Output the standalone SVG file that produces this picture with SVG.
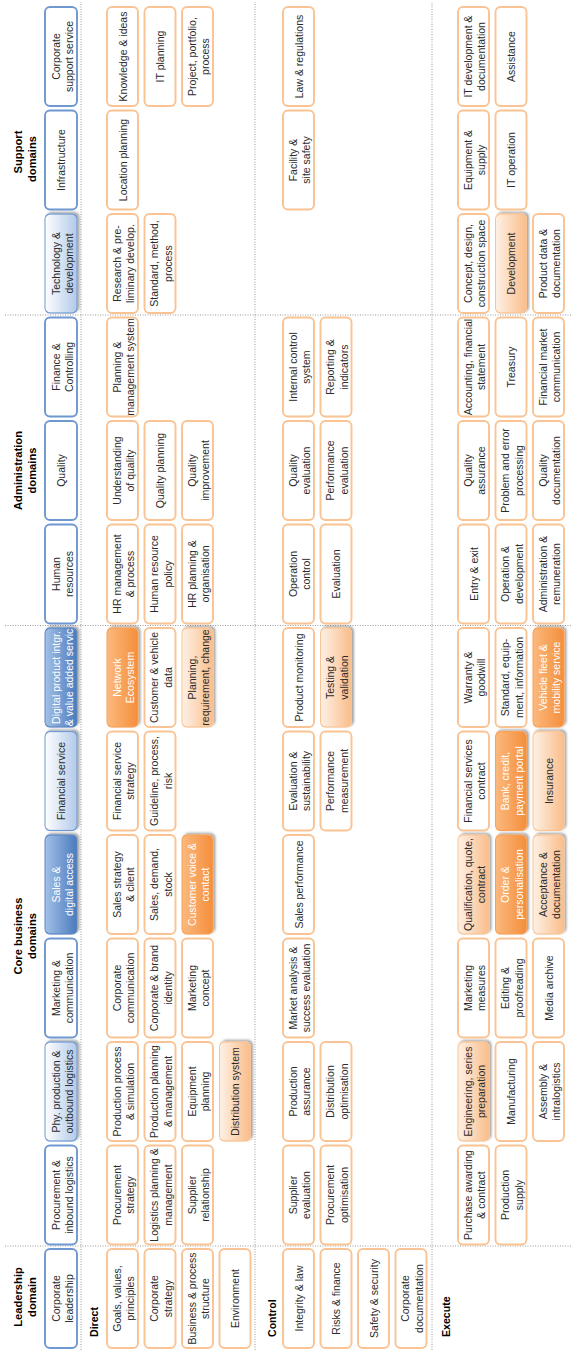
<svg xmlns="http://www.w3.org/2000/svg" width="572" height="1352" viewBox="0 0 572 1352">
<defs>
  <linearGradient id="gBlue" x1="0" y1="0" x2="0" y2="1">
    <stop offset="0" stop-color="#a3c0e7"/>
    <stop offset="1" stop-color="#4a7bbd"/>
  </linearGradient>
  <linearGradient id="gBlueLight" x1="0" y1="0" x2="0" y2="1">
    <stop offset="0" stop-color="#ffffff"/>
    <stop offset="1" stop-color="#b2c9e9"/>
  </linearGradient>
  <linearGradient id="gOrange" x1="0" y1="0" x2="0" y2="1">
    <stop offset="0" stop-color="#fbb97d"/>
    <stop offset="1" stop-color="#f58e3c"/>
  </linearGradient>
  <linearGradient id="gOrangeLight" x1="0" y1="0" x2="0" y2="1">
    <stop offset="0" stop-color="#fef1e6"/>
    <stop offset="1" stop-color="#f9bd8a"/>
  </linearGradient>
  <filter id="shadow" x="-10%" y="-15%" width="125%" height="145%">
    <feDropShadow dx="1.5" dy="2" stdDeviation="1.2" flood-color="#000" flood-opacity="0.35"/>
  </filter>
  <style>
    .hd { fill: #ffffff; stroke: #6e98cf; stroke-width: 1.9; }
    .hdL { fill: url(#gBlueLight); stroke: #6e98cf; stroke-width: 1.2; filter: url(#shadow); }
    .hdB { fill: url(#gBlue); stroke: #5d88c4; stroke-width: 1.2; filter: url(#shadow); }
    .c { fill: #ffffff; stroke: #f9c393; stroke-width: 1.9; }
    .cL { fill: url(#gOrangeLight); stroke: #f9c393; stroke-width: 1.2; filter: url(#shadow); }
    .cO { fill: url(#gOrange); stroke: #f7a25a; stroke-width: 1.2; filter: url(#shadow); }
    rect { rx: 5px; ry: 5px; }
    text { font-family: "Liberation Sans", Arial, sans-serif; }
    .t { font-size: 10.5px; fill: #2b2b2b; text-anchor: middle; }
    .w { fill: #ffffff; }
    .ttl { font-size: 11.2px; font-weight: bold; fill: #000000; text-anchor: middle; }
    .sec { font-size: 10.6px; font-weight: bold; fill: #000000; }
    .sep { stroke: #9c9c9c; stroke-width: 1; stroke-dasharray: 1 1.5; fill: none; }
  </style>
</defs>

<!-- the whole chart is laid out landscape and turned a quarter to the left -->
<g transform="translate(0 1352) rotate(-90)">

  <!-- dotted section separators -->
  <g id="separators">
    <line class="sep" x1="2" y1="81" x2="1350" y2="81"/>
    <line class="sep" x1="2" y1="255" x2="1350" y2="255"/>
    <line class="sep" x1="2" y1="432" x2="1350" y2="432"/>
    <line class="sep" x1="106" y1="5" x2="106" y2="572"/>
    <line class="sep" x1="726.5" y1="5" x2="726.5" y2="572"/>
    <line class="sep" x1="1037" y1="5" x2="1037" y2="572"/>
  </g>

  <!-- domain titles -->
  <g id="titles">
    <text class="ttl"><tspan x="55" y="22">Leadership</tspan><tspan x="55" y="36">domain</tspan></text>
    <text class="ttl"><tspan x="416" y="22">Core business</tspan><tspan x="416" y="36">domains</tspan></text>
    <text class="ttl"><tspan x="881.5" y="22">Administration</tspan><tspan x="881.5" y="36">domains</tspan></text>
    <text class="ttl"><tspan x="1200" y="22">Support</tspan><tspan x="1193" y="36">domains</tspan></text>
  </g>

  <!-- row section labels -->
  <g id="sections">
    <text class="sec" x="15" y="98">Direct</text>
    <text class="sec" x="15" y="276">Control</text>
    <text class="sec" x="15" y="450">Execute</text>
  </g>

  <!-- ===== Leadership ===== -->
  <g id="corporate-leadership"><rect class="hd" x="4" y="45" width="99" height="32"/><text class="t"><tspan x="53.5" y="59.5">Corporate</tspan><tspan x="53.5" y="73">leadership</tspan></text></g>
  <g id="goals-values"><rect class="c" x="4" y="107" width="99" height="31"/><text class="t"><tspan x="53.5" y="120.5">Goals, values,</tspan><tspan x="53.5" y="134">principles</tspan></text></g>
  <g id="corporate-strategy"><rect class="c" x="4" y="144.5" width="99" height="31"/><text class="t"><tspan x="53.5" y="158">Corporate</tspan><tspan x="53.5" y="171.5">strategy</tspan></text></g>
  <g id="business-process"><rect class="c" x="4" y="182" width="99" height="31"/><text class="t"><tspan x="53.5" y="195.5">Business &amp; process</tspan><tspan x="53.5" y="209">structure</tspan></text></g>
  <g id="environment"><rect class="c" x="4" y="219.5" width="99" height="31"/><text class="t" x="53.5" y="239">Environment</text></g>
  <g id="integrity-law"><rect class="c" x="4" y="283" width="99" height="31"/><text class="t" x="53.5" y="302.5">Integrity &amp; law</text></g>
  <g id="risks-finance"><rect class="c" x="4" y="320.5" width="99" height="31"/><text class="t" x="53.5" y="340">Risks &amp; finance</text></g>
  <g id="safety-security"><rect class="c" x="4" y="358" width="99" height="31"/><text class="t" x="53.5" y="377.5">Safety &amp; security</text></g>
  <g id="corporate-documentation"><rect class="c" x="4" y="395.5" width="99" height="31"/><text class="t"><tspan x="53.5" y="409">Corporate</tspan><tspan x="53.5" y="422.5">documentation</tspan></text></g>

  <!-- ===== Procurement & inbound logistics ===== -->
  <g id="procurement"><rect class="hd" x="107.5" y="45" width="99" height="32"/><text class="t"><tspan x="157" y="59.5">Procurement &amp;</tspan><tspan x="157" y="73">inbound logistics</tspan></text></g>
  <g id="procurement-strategy"><rect class="c" x="107.5" y="107" width="99" height="31"/><text class="t"><tspan x="157" y="120.5">Procurement</tspan><tspan x="157" y="134">strategy</tspan></text></g>
  <g id="logistics-planning"><rect class="c" x="107.5" y="144.5" width="99" height="31"/><text class="t"><tspan x="157" y="158">Logistics planning &amp;</tspan><tspan x="157" y="171.5">management</tspan></text></g>
  <g id="supplier-relationship"><rect class="c" x="107.5" y="182" width="99" height="31"/><text class="t"><tspan x="157" y="195.5">Supplier</tspan><tspan x="157" y="209">relationship</tspan></text></g>
  <g id="supplier-evaluation"><rect class="c" x="107.5" y="283" width="99" height="31"/><text class="t"><tspan x="157" y="296.5">Supplier</tspan><tspan x="157" y="310">evaluation</tspan></text></g>
  <g id="procurement-optimisation"><rect class="c" x="107.5" y="320.5" width="99" height="31"/><text class="t"><tspan x="157" y="334">Procurement</tspan><tspan x="157" y="347.5">optimisation</tspan></text></g>
  <g id="purchase-awarding"><rect class="c" x="107.5" y="458" width="99" height="31"/><text class="t"><tspan x="157" y="471.5">Purchase awarding</tspan><tspan x="157" y="485">&amp; contract</tspan></text></g>
  <g id="production-supply"><rect class="c" x="107.5" y="495.5" width="99" height="31"/><text class="t"><tspan x="157" y="509">Production</tspan><tspan x="157" y="522.5">supply</tspan></text></g>

  <!-- ===== Phy. production & outbound logistics ===== -->
  <g id="production"><rect class="hdL" x="211" y="45" width="99" height="32"/><text class="t"><tspan x="260.5" y="59.5">Phy. production &amp;</tspan><tspan x="260.5" y="73">outbound logistics</tspan></text></g>
  <g id="production-process"><rect class="c" x="211" y="107" width="99" height="31"/><text class="t"><tspan x="260.5" y="120.5">Production process</tspan><tspan x="260.5" y="134">&amp; simulation</tspan></text></g>
  <g id="production-planning"><rect class="c" x="211" y="144.5" width="99" height="31"/><text class="t"><tspan x="260.5" y="158">Production planning</tspan><tspan x="260.5" y="171.5">&amp; management</tspan></text></g>
  <g id="equipment-planning"><rect class="c" x="211" y="182" width="99" height="31"/><text class="t"><tspan x="260.5" y="195.5">Equipment</tspan><tspan x="260.5" y="209">planning</tspan></text></g>
  <g id="distribution-system"><rect class="cL" x="211" y="219.5" width="99" height="31"/><text class="t" x="260.5" y="239">Distribution system</text></g>
  <g id="production-assurance"><rect class="c" x="211" y="283" width="99" height="31"/><text class="t"><tspan x="260.5" y="296.5">Production</tspan><tspan x="260.5" y="310">assurance</tspan></text></g>
  <g id="distribution-optimisation"><rect class="c" x="211" y="320.5" width="99" height="31"/><text class="t"><tspan x="260.5" y="334">Distribution</tspan><tspan x="260.5" y="347.5">optimisation</tspan></text></g>
  <g id="engineering"><rect class="cL" x="211" y="458" width="99" height="31"/><text class="t"><tspan x="260.5" y="471.5">Engineering, series</tspan><tspan x="260.5" y="485">preparation</tspan></text></g>
  <g id="manufacturing"><rect class="c" x="211" y="495.5" width="99" height="31"/><text class="t" x="260.5" y="515">Manufacturing</text></g>
  <g id="assembly"><rect class="c" x="211" y="533" width="99" height="31"/><text class="t"><tspan x="260.5" y="546.5">Assembly &amp;</tspan><tspan x="260.5" y="560">intralogistics</tspan></text></g>

  <!-- ===== Marketing & communication ===== -->
  <g id="marketing"><rect class="hd" x="314.5" y="45" width="99" height="32"/><text class="t"><tspan x="364" y="59.5">Marketing &amp;</tspan><tspan x="364" y="73">communication</tspan></text></g>
  <g id="corporate-communication"><rect class="c" x="314.5" y="107" width="99" height="31"/><text class="t"><tspan x="364" y="120.5">Corporate</tspan><tspan x="364" y="134">communication</tspan></text></g>
  <g id="brand-identity"><rect class="c" x="314.5" y="144.5" width="99" height="31"/><text class="t"><tspan x="364" y="158">Corporate &amp; brand</tspan><tspan x="364" y="171.5">identity</tspan></text></g>
  <g id="marketing-concept"><rect class="c" x="314.5" y="182" width="99" height="31"/><text class="t"><tspan x="364" y="195.5">Marketing</tspan><tspan x="364" y="209">concept</tspan></text></g>
  <g id="market-analysis"><rect class="c" x="314.5" y="283" width="99" height="31"/><text class="t"><tspan x="364" y="296.5">Market analysis &amp;</tspan><tspan x="364" y="310">success evaluation</tspan></text></g>
  <g id="marketing-measures"><rect class="c" x="314.5" y="458" width="99" height="31"/><text class="t"><tspan x="364" y="471.5">Marketing</tspan><tspan x="364" y="485">measures</tspan></text></g>
  <g id="editing"><rect class="c" x="314.5" y="495.5" width="99" height="31"/><text class="t"><tspan x="364" y="509">Editing &amp;</tspan><tspan x="364" y="522.5">proofreading</tspan></text></g>
  <g id="media-archive"><rect class="c" x="314.5" y="533" width="99" height="31"/><text class="t" x="364" y="552.5">Media archive</text></g>

  <!-- ===== Sales & digital access ===== -->
  <g id="sales"><rect class="hdB" x="418" y="45" width="99" height="32"/><text class="t w"><tspan x="467.5" y="59.5">Sales &amp;</tspan><tspan x="467.5" y="73">digital access</tspan></text></g>
  <g id="sales-strategy"><rect class="c" x="418" y="107" width="99" height="31"/><text class="t"><tspan x="467.5" y="120.5">Sales strategy</tspan><tspan x="467.5" y="134">&amp; client</tspan></text></g>
  <g id="sales-demand"><rect class="c" x="418" y="144.5" width="99" height="31"/><text class="t"><tspan x="467.5" y="158">Sales, demand,</tspan><tspan x="467.5" y="171.5">stock</tspan></text></g>
  <g id="customer-voice"><rect class="cO" x="418" y="182" width="99" height="31"/><text class="t w"><tspan x="467.5" y="195.5">Customer voice &amp;</tspan><tspan x="467.5" y="209">contact</tspan></text></g>
  <g id="sales-performance"><rect class="c" x="418" y="283" width="99" height="31"/><text class="t" x="467.5" y="302.5">Sales performance</text></g>
  <g id="qualification"><rect class="cL" x="418" y="458" width="99" height="31"/><text class="t"><tspan x="467.5" y="471.5">Qualification, quote,</tspan><tspan x="467.5" y="485">contract</tspan></text></g>
  <g id="order"><rect class="cO" x="418" y="495.5" width="99" height="31"/><text class="t w"><tspan x="467.5" y="509">Order &amp;</tspan><tspan x="467.5" y="522.5">personalisation</tspan></text></g>
  <g id="acceptance"><rect class="cL" x="418" y="533" width="99" height="31"/><text class="t"><tspan x="467.5" y="546.5">Acceptance &amp;</tspan><tspan x="467.5" y="560">documentation</tspan></text></g>

  <!-- ===== Financial service ===== -->
  <g id="financial-service"><rect class="hdL" x="521.5" y="45" width="99" height="32"/><text class="t" x="571" y="65">Financial service</text></g>
  <g id="financial-strategy"><rect class="c" x="521.5" y="107" width="99" height="31"/><text class="t"><tspan x="571" y="120.5">Financial service</tspan><tspan x="571" y="134">strategy</tspan></text></g>
  <g id="guideline"><rect class="c" x="521.5" y="144.5" width="99" height="31"/><text class="t"><tspan x="571" y="158">Guideline, process,</tspan><tspan x="571" y="171.5">risk</tspan></text></g>
  <g id="evaluation-sustainability"><rect class="c" x="521.5" y="283" width="99" height="31"/><text class="t"><tspan x="571" y="296.5">Evaluation &amp;</tspan><tspan x="571" y="310">sustainability</tspan></text></g>
  <g id="performance-measurement"><rect class="c" x="521.5" y="320.5" width="99" height="31"/><text class="t"><tspan x="571" y="334">Performance</tspan><tspan x="571" y="347.5">measurement</tspan></text></g>
  <g id="financial-contract"><rect class="c" x="521.5" y="458" width="99" height="31"/><text class="t"><tspan x="571" y="471.5">Financial services</tspan><tspan x="571" y="485">contract</tspan></text></g>
  <g id="bank-credit"><rect class="cO" x="521.5" y="495.5" width="99" height="31"/><text class="t w"><tspan x="571" y="509">Bank, credit,</tspan><tspan x="571" y="522.5">payment portal</tspan></text></g>
  <g id="insurance"><rect class="cL" x="521.5" y="533" width="99" height="31"/><text class="t" x="571" y="552.5">Insurance</text></g>

  <!-- ===== Digital product integration ===== -->
  <g id="digital-product"><rect class="hdB" x="625" y="45" width="99" height="32"/><text class="t w"><tspan x="674.5" y="59.5">Digital product intgr.</tspan><tspan x="674.5" y="73">&amp; value added servic</tspan></text></g>
  <g id="network-ecosystem"><rect class="cO" x="625" y="107" width="99" height="31"/><text class="t w"><tspan x="674.5" y="120.5">Network</tspan><tspan x="674.5" y="134">Ecosystem</tspan></text></g>
  <g id="customer-vehicle-data"><rect class="c" x="625" y="144.5" width="99" height="31"/><text class="t"><tspan x="674.5" y="158">Customer &amp; vehicle</tspan><tspan x="674.5" y="171.5">data</tspan></text></g>
  <g id="planning-requirement"><rect class="cL" x="625" y="182" width="99" height="31"/><text class="t"><tspan x="674.5" y="195.5">Planning,</tspan><tspan x="674.5" y="209">requirement, change</tspan></text></g>
  <g id="product-monitoring"><rect class="c" x="625" y="283" width="99" height="31"/><text class="t" x="674.5" y="302.5">Product monitoring</text></g>
  <g id="testing-validation"><rect class="cL" x="625" y="320.5" width="99" height="31"/><text class="t"><tspan x="674.5" y="334">Testing &amp;</tspan><tspan x="674.5" y="347.5">validation</tspan></text></g>
  <g id="warranty"><rect class="c" x="625" y="458" width="99" height="31"/><text class="t"><tspan x="674.5" y="471.5">Warranty &amp;</tspan><tspan x="674.5" y="485">goodwill</tspan></text></g>
  <g id="standard-equipment"><rect class="c" x="625" y="495.5" width="99" height="31"/><text class="t"><tspan x="674.5" y="509">Standard, equip-</tspan><tspan x="674.5" y="522.5">ment, information</tspan></text></g>
  <g id="vehicle-fleet"><rect class="cO" x="625" y="533" width="99" height="31"/><text class="t w"><tspan x="674.5" y="546.5">Vehicle fleet &amp;</tspan><tspan x="674.5" y="560">mobility service</tspan></text></g>

  <!-- ===== Human resources ===== -->
  <g id="human-resources"><rect class="hd" x="728.5" y="45" width="99" height="32"/><text class="t"><tspan x="778" y="59.5">Human</tspan><tspan x="778" y="73">resources</tspan></text></g>
  <g id="hr-management"><rect class="c" x="728.5" y="107" width="99" height="31"/><text class="t"><tspan x="778" y="120.5">HR management</tspan><tspan x="778" y="134">&amp; process</tspan></text></g>
  <g id="hr-policy"><rect class="c" x="728.5" y="144.5" width="99" height="31"/><text class="t"><tspan x="778" y="158">Human resource</tspan><tspan x="778" y="171.5">policy</tspan></text></g>
  <g id="hr-planning"><rect class="c" x="728.5" y="182" width="99" height="31"/><text class="t"><tspan x="778" y="195.5">HR planning &amp;</tspan><tspan x="778" y="209">organisation</tspan></text></g>
  <g id="operation-control"><rect class="c" x="728.5" y="283" width="99" height="31"/><text class="t"><tspan x="778" y="296.5">Operation</tspan><tspan x="778" y="310">control</tspan></text></g>
  <g id="hr-evaluation"><rect class="c" x="728.5" y="320.5" width="99" height="31"/><text class="t" x="778" y="340">Evaluation</text></g>
  <g id="entry-exit"><rect class="c" x="728.5" y="458" width="99" height="31"/><text class="t" x="778" y="477.5">Entry &amp; exit</text></g>
  <g id="operation-development"><rect class="c" x="728.5" y="495.5" width="99" height="31"/><text class="t"><tspan x="778" y="509">Operation &amp;</tspan><tspan x="778" y="522.5">development</tspan></text></g>
  <g id="administration"><rect class="c" x="728.5" y="533" width="99" height="31"/><text class="t"><tspan x="778" y="546.5">Administration &amp;</tspan><tspan x="778" y="560">remuneration</tspan></text></g>

  <!-- ===== Quality ===== -->
  <g id="quality"><rect class="hd" x="832" y="45" width="99" height="32"/><text class="t" x="881.5" y="65">Quality</text></g>
  <g id="understanding-quality"><rect class="c" x="832" y="107" width="99" height="31"/><text class="t"><tspan x="881.5" y="120.5">Understanding</tspan><tspan x="881.5" y="134">of quality</tspan></text></g>
  <g id="quality-planning"><rect class="c" x="832" y="144.5" width="99" height="31"/><text class="t" x="881.5" y="164">Quality planning</text></g>
  <g id="quality-improvement"><rect class="c" x="832" y="182" width="99" height="31"/><text class="t"><tspan x="881.5" y="195.5">Quality</tspan><tspan x="881.5" y="209">improvement</tspan></text></g>
  <g id="quality-evaluation"><rect class="c" x="832" y="283" width="99" height="31"/><text class="t"><tspan x="881.5" y="296.5">Quality</tspan><tspan x="881.5" y="310">evaluation</tspan></text></g>
  <g id="performance-evaluation"><rect class="c" x="832" y="320.5" width="99" height="31"/><text class="t"><tspan x="881.5" y="334">Performance</tspan><tspan x="881.5" y="347.5">evaluation</tspan></text></g>
  <g id="quality-assurance"><rect class="c" x="832" y="458" width="99" height="31"/><text class="t"><tspan x="881.5" y="471.5">Quality</tspan><tspan x="881.5" y="485">assurance</tspan></text></g>
  <g id="problem-processing"><rect class="c" x="832" y="495.5" width="99" height="31"/><text class="t"><tspan x="881.5" y="509">Problem and error</tspan><tspan x="881.5" y="522.5">processing</tspan></text></g>
  <g id="quality-documentation"><rect class="c" x="832" y="533" width="99" height="31"/><text class="t"><tspan x="881.5" y="546.5">Quality</tspan><tspan x="881.5" y="560">documentation</tspan></text></g>

  <!-- ===== Finance & Controlling ===== -->
  <g id="finance-controlling"><rect class="hd" x="935.5" y="45" width="99" height="32"/><text class="t"><tspan x="985" y="59.5">Finance &amp;</tspan><tspan x="985" y="73">Controlling</tspan></text></g>
  <g id="planning-management-system"><rect class="c" x="935.5" y="107" width="99" height="31"/><text class="t"><tspan x="985" y="120.5">Planning &amp;</tspan><tspan x="985" y="134">management system</tspan></text></g>
  <g id="internal-control"><rect class="c" x="935.5" y="283" width="99" height="31"/><text class="t"><tspan x="985" y="296.5">Internal control</tspan><tspan x="985" y="310">system</tspan></text></g>
  <g id="reporting"><rect class="c" x="935.5" y="320.5" width="99" height="31"/><text class="t"><tspan x="985" y="334">Reporting &amp;</tspan><tspan x="985" y="347.5">indicators</tspan></text></g>
  <g id="accounting"><rect class="c" x="935.5" y="458" width="99" height="31"/><text class="t"><tspan x="985" y="471.5">Accounting, financial</tspan><tspan x="985" y="485">statement</tspan></text></g>
  <g id="treasury"><rect class="c" x="935.5" y="495.5" width="99" height="31"/><text class="t" x="985" y="515">Treasury</text></g>
  <g id="financial-market"><rect class="c" x="935.5" y="533" width="99" height="31"/><text class="t"><tspan x="985" y="546.5">Financial market</tspan><tspan x="985" y="560">communication</tspan></text></g>

  <!-- ===== Technology & development ===== -->
  <g id="technology"><rect class="hdL" x="1039" y="45" width="99" height="32"/><text class="t"><tspan x="1088.5" y="59.5">Technology &amp;</tspan><tspan x="1088.5" y="73">development</tspan></text></g>
  <g id="research"><rect class="c" x="1039" y="107" width="99" height="31"/><text class="t"><tspan x="1088.5" y="120.5">Research &amp; pre-</tspan><tspan x="1088.5" y="134">liminary develop.</tspan></text></g>
  <g id="standard-method"><rect class="c" x="1039" y="144.5" width="99" height="31"/><text class="t"><tspan x="1088.5" y="158">Standard, method,</tspan><tspan x="1088.5" y="171.5">process</tspan></text></g>
  <g id="concept-design"><rect class="c" x="1039" y="458" width="99" height="31"/><text class="t"><tspan x="1088.5" y="471.5">Concept, design,</tspan><tspan x="1088.5" y="485">construction space</tspan></text></g>
  <g id="development"><rect class="cL" x="1039" y="495.5" width="99" height="31"/><text class="t" x="1088.5" y="515">Development</text></g>
  <g id="product-data"><rect class="c" x="1039" y="533" width="99" height="31"/><text class="t"><tspan x="1088.5" y="546.5">Product data &amp;</tspan><tspan x="1088.5" y="560">documentation</tspan></text></g>

  <!-- ===== Infrastructure ===== -->
  <g id="infrastructure"><rect class="hd" x="1142.5" y="45" width="99" height="32"/><text class="t" x="1192" y="65">Infrastructure</text></g>
  <g id="location-planning"><rect class="c" x="1142.5" y="107" width="99" height="31"/><text class="t" x="1192" y="126.5">Location planning</text></g>
  <g id="facility-safety"><rect class="c" x="1142.5" y="283" width="99" height="31"/><text class="t"><tspan x="1192" y="296.5">Facility &amp;</tspan><tspan x="1192" y="310">site safety</tspan></text></g>
  <g id="equipment-supply"><rect class="c" x="1142.5" y="458" width="99" height="31"/><text class="t"><tspan x="1192" y="471.5">Equipment &amp;</tspan><tspan x="1192" y="485">supply</tspan></text></g>
  <g id="it-operation"><rect class="c" x="1142.5" y="495.5" width="99" height="31"/><text class="t" x="1192" y="515">IT operation</text></g>

  <!-- ===== Corporate support service ===== -->
  <g id="corporate-support"><rect class="hd" x="1246" y="45" width="99" height="32"/><text class="t"><tspan x="1295.5" y="59.5">Corporate</tspan><tspan x="1295.5" y="73">support service</tspan></text></g>
  <g id="knowledge-ideas"><rect class="c" x="1246" y="107" width="99" height="31"/><text class="t" x="1295.5" y="126.5">Knowledge &amp; ideas</text></g>
  <g id="it-planning"><rect class="c" x="1246" y="144.5" width="99" height="31"/><text class="t" x="1295.5" y="164">IT planning</text></g>
  <g id="project-portfolio"><rect class="c" x="1246" y="182" width="99" height="31"/><text class="t"><tspan x="1295.5" y="195.5">Project, portfolio,</tspan><tspan x="1295.5" y="209">process</tspan></text></g>
  <g id="law-regulations"><rect class="c" x="1246" y="283" width="99" height="31"/><text class="t" x="1295.5" y="302.5">Law &amp; regulations</text></g>
  <g id="it-development"><rect class="c" x="1246" y="458" width="99" height="31"/><text class="t"><tspan x="1295.5" y="471.5">IT development &amp;</tspan><tspan x="1295.5" y="485">documentation</tspan></text></g>
  <g id="assistance"><rect class="c" x="1246" y="495.5" width="99" height="31"/><text class="t" x="1295.5" y="515">Assistance</text></g>

</g>
</svg>
